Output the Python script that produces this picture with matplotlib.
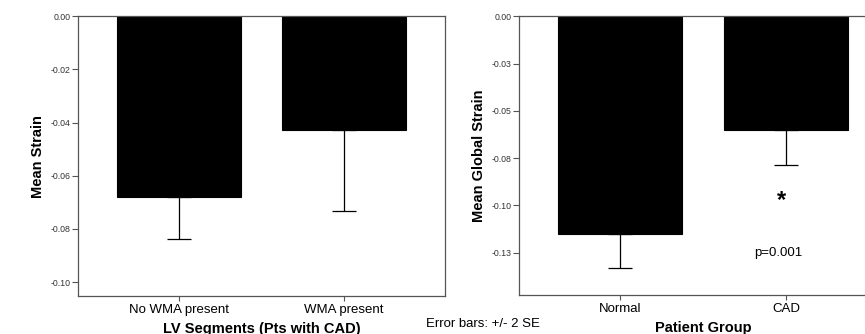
import matplotlib
matplotlib.use("Agg")
import matplotlib.pyplot as plt
import numpy as np

# Left panel: regional strain in CAD patients
seg_labels = ["No WMA present", "WMA present"]
seg_means = [-0.0680, -0.0426]
seg_err = [0.0157, 0.0306]          # 2 SE, drawn below the bar only
seg_ticks = [0.00, -0.02, -0.04, -0.06, -0.08, -0.10]
seg_ticklabels = ["0.00", "-0.02", "-0.04", "-0.06", "-0.08", "-0.10"]

# Right panel: global strain by patient group
grp_labels = ["Normal", "CAD"]
grp_means = [-0.1152, -0.0603]
grp_err = [0.0177, 0.0185]
grp_ticks = [0.0, -0.025, -0.05, -0.075, -0.10, -0.125]
grp_ticklabels = ["0.00", "-0.03", "-0.05", "-0.08", "-0.10", "-0.13"]

plt.rcParams['font.family'] = ['Liberation Sans', 'DejaVu Sans']

SPINE = "#555555"
TICKTXT = "#333333"

fig = plt.figure(figsize=(8.65, 3.34), dpi=100)
ax1 = fig.add_axes([0.0902, 0.1138, 0.4243, 0.8374])
ax2 = fig.add_axes([0.6003, 0.1168, 0.4254, 0.8344])


def draw_panel(ax, labels, means, err, ticks, ticklabels, ylim, xlabel, ylabel):
    x = np.arange(len(labels))
    ax.bar(x, means, width=0.747, color="black", edgecolor="black", linewidth=0.8,
           yerr=[err, np.zeros(len(err))],
           error_kw=dict(ecolor="black", elinewidth=0.9, capsize=8.3, capthick=0.9))
    ax.set_xlim(-0.61, 1.61)
    ax.set_ylim(*ylim)
    ax.set_yticks(ticks)
    ax.set_yticklabels(ticklabels)
    ax.set_xticks(x)
    ax.set_xticklabels(labels, fontsize=9.5, color="black")
    ax.tick_params(axis="y", length=4.5, pad=0.8, labelsize=6.3, labelcolor=TICKTXT,
                   color=SPINE, width=0.8)
    ax.tick_params(axis="x", length=3.6, pad=2, color=SPINE, width=0.8)
    for s in ax.spines.values():
        s.set_color(SPINE)
        s.set_linewidth(0.9)
    ax.set_xlabel(xlabel, fontsize=10.5, fontweight="bold", va="center")
    ax.xaxis.set_label_coords(0.5, -0.118)
    ax.set_ylabel(ylabel, fontsize=10.5, fontweight="bold", va="center")
    ax.yaxis.set_label_coords(-0.109, 0.5)


draw_panel(ax1, seg_labels, seg_means, seg_err, seg_ticks, seg_ticklabels,
           (-0.1052, 0.0), "LV Segments (Pts with CAD)", "Mean Strain")
draw_panel(ax2, grp_labels, grp_means, grp_err, grp_ticks, grp_ticklabels,
           (-0.1473, 0.0), "Patient Group", "Mean Global Strain")

ax2.text(0.97, -0.0975, "*", fontsize=17, fontweight="bold", ha="center", va="center")
ax2.text(0.955, -0.1251, "p=0.001", fontsize=9.5, ha="center", va="center")

fig.text(426 / 865, 0.030, "Error bars: +/- 2 SE", fontsize=9.5, ha="left", va="center")

fig.savefig("out.png", dpi=100)
